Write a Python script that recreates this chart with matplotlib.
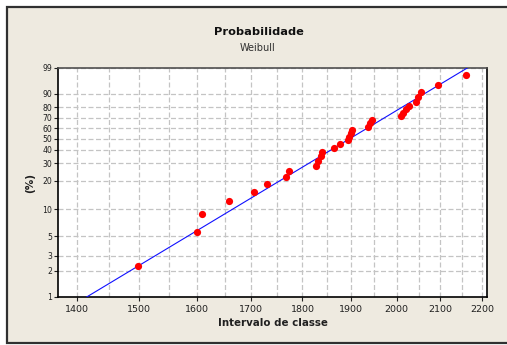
import numpy as np
import matplotlib
matplotlib.use("Agg")
import matplotlib.pyplot as plt
from matplotlib.patches import Rectangle
from matplotlib.ticker import FixedLocator, FixedFormatter, NullFormatter

# ---- data ----
x_vals = [1498, 1600, 1609, 1659, 1705, 1730, 1767, 1773, 1828, 1832,
          1837, 1840, 1865, 1878, 1895, 1896, 1900, 1902, 1937, 1941,
          1945, 2009, 2015, 2021, 2028, 2043, 2047, 2055, 2094, 2160]
pct_vals = [2.3, 5.6, 8.9, 12.2, 15.5, 18.8, 22.0, 25.3, 28.6, 31.9,
            35.2, 38.5, 41.8, 45.1, 48.4, 51.6, 54.9, 58.2, 61.5, 64.8,
            68.1, 71.4, 74.7, 78.0, 81.3, 84.5, 87.8, 91.1, 94.4, 97.7]
fit_shape = 14.4
fit_scale = 1947
fit_pct = [0.5, 99.5]

x_ticks = [1400, 1500, 1600, 1700, 1800, 1900, 2000, 2100, 2200]
x_minor = [1450, 1550, 1650, 1750, 1850, 1950, 2050, 2150]
y_ticks = [1, 2, 3, 5, 10, 20, 30, 40, 50, 60, 70, 80, 90, 99]

title = "Probabilidade"
subtitle = "Weibull"
xlabel = "Intervalo de classe"
ylabel = "(%)"

# ---- figure ----
W, H = 507, 345
fig = plt.figure(figsize=(W / 100, H / 100), dpi=100, facecolor="white")
bg = "#EEEAE0"
fig.patches.append(Rectangle((7 / W, 1 - 343 / H), 1.2, (343 - 7) / H,
                             transform=fig.transFigure, facecolor=bg,
                             edgecolor="#303030", linewidth=1.6, zorder=-10))

ax = fig.add_axes([58 / W, 1 - 297 / H, (487 - 58) / W, (297 - 67.7) / H])
ax.set_facecolor("white")


def fwd(p):
    p = np.clip(np.asarray(p, dtype=float), 1e-6, 99.99999)
    return np.log(-np.log(1 - p / 100.0))


def inv(w):
    return 100.0 * (1 - np.exp(-np.exp(np.asarray(w, dtype=float))))


ax.set_xscale("log")
ax.set_yscale("function", functions=(fwd, inv))
ax.set_xlim(1370, 2212)
ax.set_ylim(1, 99)

ax.xaxis.set_major_locator(FixedLocator(x_ticks))
ax.xaxis.set_major_formatter(FixedFormatter([str(v) for v in x_ticks]))
ax.xaxis.set_minor_locator(FixedLocator(x_minor))
ax.xaxis.set_minor_formatter(NullFormatter())
ax.yaxis.set_major_locator(FixedLocator(y_ticks))
ax.yaxis.set_major_formatter(FixedFormatter([str(v) for v in y_ticks]))
ax.yaxis.set_minor_locator(FixedLocator([]))

ax.grid(True, which="both", color="#C4C4C4", linestyle=(0, (4, 2)), linewidth=0.9)
ax.set_axisbelow(True)

ax.tick_params(axis="x", which="major", labelsize=6.8, length=3, width=0.8,
               colors="#202020", pad=3)
ax.tick_params(axis="x", which="minor", length=0)
ax.tick_params(axis="y", which="major", labelsize=5.6, length=3, width=0.8,
               colors="#202020", pad=1)

for s in ["left", "bottom", "right"]:
    ax.spines[s].set_color("black")
    ax.spines[s].set_linewidth(1.2)
ax.spines["top"].set_color("#505050")
ax.spines["top"].set_linewidth(1.2)

# fitted line
fp = np.array(fit_pct)
fx = fit_scale * (-np.log(1 - fp / 100.0)) ** (1.0 / fit_shape)
ax.plot(fx, fp, color="#1010FF", linewidth=0.8, zorder=3)

# data points
ax.plot(x_vals, pct_vals, linestyle="none", marker="o", markersize=5.2,
        color="#FF0000", markeredgewidth=0, zorder=4)

ax.set_xlabel(xlabel, fontsize=7.4, fontweight="bold", color="#202020", labelpad=3)
fig.text(30 / W, 1 - 183 / H, ylabel, fontsize=7.5, fontweight="bold",
         rotation=90, ha="center", va="center", color="#202020")

fig.text(259 / W, 1 - 32 / H, title, fontsize=8.2, fontweight="bold",
         ha="center", va="center", color="#101010")
fig.text(258 / W, 1 - 48 / H, subtitle, fontsize=7, ha="center", va="center",
         color="#303030")

fig.savefig("out.png", dpi=100, facecolor=fig.get_facecolor())
